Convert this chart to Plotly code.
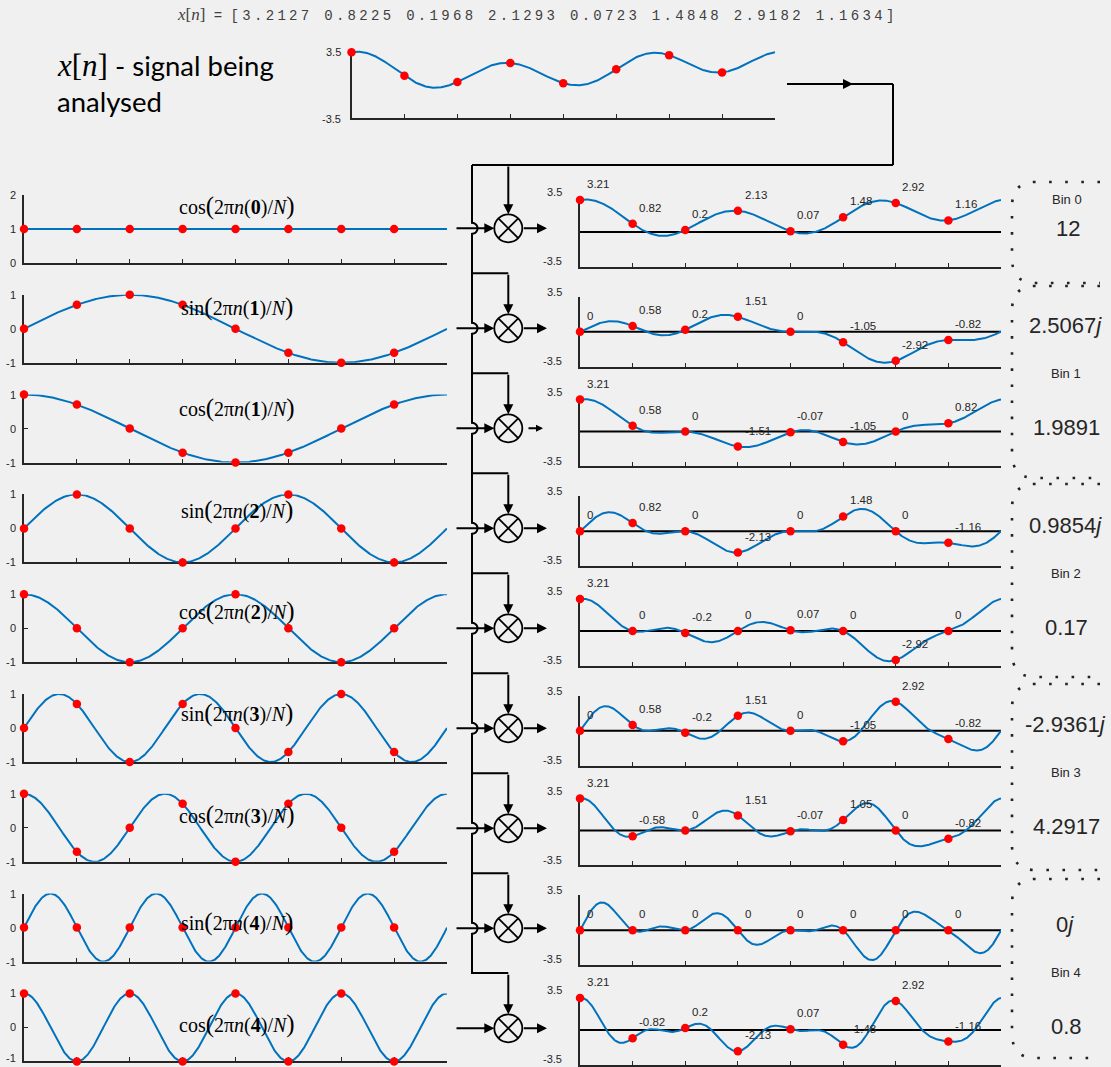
import numpy as np
import plotly.graph_objects as go

W, H = 1111, 1067
BG = '#f0f0f0'
AX = '#262626'
BLUE = '#0072BD'
RED = '#FF0000'
SANS = 'Liberation Sans, Arial, sans-serif'
SERIF = 'Liberation Serif, Times New Roman, serif'
MONO = 'Liberation Mono, Courier New, monospace'

# ---------------- data ----------------
x_n = [3.2127, 0.8225, 0.1968, 2.1293, 0.0723, 1.4848, 2.9182, 1.1634]
basis_kind = ['cos', 'sin', 'cos', 'sin', 'cos', 'sin', 'cos', 'sin', 'cos']
basis_k = [0, 1, 1, 2, 2, 3, 3, 4, 4]
product_labels = [
    ['3.21', '0.82', '0.2', '2.13', '0.07', '1.48', '2.92', '1.16'],
    ['0', '0.58', '0.2', '1.51', '0', '-1.05', '-2.92', '-0.82'],
    ['3.21', '0.58', '0', '-1.51', '-0.07', '-1.05', '0', '0.82'],
    ['0', '0.82', '0', '-2.13', '0', '1.48', '0', '-1.16'],
    ['3.21', '0', '-0.2', '0', '0.07', '0', '-2.92', '0'],
    ['0', '0.58', '-0.2', '1.51', '0', '-1.05', '2.92', '-0.82'],
    ['3.21', '-0.58', '0', '1.51', '-0.07', '1.05', '0', '-0.82'],
    ['0', '0', '0', '0', '0', '0', '0', '0'],
    ['3.21', '-0.82', '0.2', '-2.13', '0.07', '-1.48', '2.92', '-1.16'],
]
bin_names = ['Bin 0', 'Bin 1', 'Bin 2', 'Bin 3', 'Bin 4']
bin_real = ['12', '1.9891', '0.17', '4.2917', '0.8']
bin_imag = [None, '2.5067', '0.9854', '-2.9361', '0']

# ---------------- derived curves (DFT interpolation of x[n]) ----------------
N = len(x_n)
xa = np.array(x_n)
nn = np.arange(N)
C = [np.sum(xa * np.cos(2 * np.pi * k * nn / N)) for k in range(N // 2 + 1)]
S = [np.sum(xa * np.sin(2 * np.pi * k * nn / N)) for k in range(N // 2 + 1)]
t = np.linspace(0, N, 801)
xt = C[0] + C[N // 2] * np.cos(np.pi * t)
for k in range(1, N // 2):
    xt = xt + 2 * (C[k] * np.cos(2 * np.pi * k * t / N) + S[k] * np.sin(2 * np.pi * k * t / N))
xt = xt / N


def basis(kind, k, tt):
    f = np.cos if kind == 'cos' else np.sin
    return f(2 * np.pi * k * np.asarray(tt, dtype=float) / N)


def PX(x):
    return x / W


def PY(y):
    return 1 - y / H


fig = go.Figure()
axes = {}
annotations = []
shapes = []
count = [0]


def new_axes(x0, x1, ytop, ybot, yrange, ytickvals):
    count[0] += 1
    i = count[0]
    s = '' if i == 1 else str(i)
    axes['xaxis' + s] = dict(domain=[PX(x0), PX(x1)], range=[0, N], anchor='y' + s,
                             showgrid=False, zeroline=False, showline=True, linecolor=AX,
                             linewidth=2, ticks='inside', ticklen=4, tickwidth=1.3,
                             tickcolor=AX, tickvals=list(range(N + 1)),
                             showticklabels=False, fixedrange=True, layer='below traces',
                             automargin=False)
    axes['yaxis' + s] = dict(domain=[PY(ybot), PY(ytop)], range=yrange, anchor='x' + s,
                             showgrid=False, zeroline=False, showline=True, linecolor=AX,
                             linewidth=2, ticks='inside', ticklen=4, tickwidth=1.3,
                             tickcolor=AX, tickvals=ytickvals, showticklabels=False,
                             fixedrange=True, layer='below traces', automargin=False)
    return 'x' + s, 'y' + s


def add_curve(xr, yr, yy, color=BLUE, width=2):
    fig.add_trace(go.Scatter(x=t, y=yy, xaxis=xr, yaxis=yr, mode='lines',
                             line=dict(color=color, width=width), hoverinfo='skip',
                             showlegend=False, cliponaxis=False))


def add_dots(xr, yr, yy):
    fig.add_trace(go.Scatter(x=list(nn), y=list(yy), xaxis=xr, yaxis=yr, mode='markers',
                             marker=dict(color=RED, size=8.5), hoverinfo='skip',
                             showlegend=False, cliponaxis=False))


def text(x, y, s, size, family=SANS, color=AX, xanchor='center', yanchor='middle',
         xref='paper', yref='paper'):
    if xref == 'paper':
        x = PX(x)
    if yref == 'paper':
        y = PY(y)
    annotations.append(dict(x=x, y=y, xref=xref, yref=yref, text=s, showarrow=False,
                            xanchor=xanchor, yanchor=yanchor,
                            font=dict(family=family, size=size, color=color)))


def line(x0, y0, x1, y1, w=2, color='black'):
    shapes.append(dict(type='line', xref='paper', yref='paper', x0=PX(x0), y0=PY(y0),
                       x1=PX(x1), y1=PY(y1), line=dict(color=color, width=w)))


def arrow(tip, tail, size=1.0, w=2):
    annotations.append(dict(x=PX(tip[0]), y=PY(tip[1]), xref='paper', yref='paper',
                            ax=tail[0] - tip[0], ay=tail[1] - tip[1], text='',
                            showarrow=True, arrowhead=2, arrowsize=size, arrowwidth=w,
                            arrowcolor='black', standoff=0))


def path_from(points):
    return 'M ' + ' L '.join('%.6f,%.6f' % (PX(a), PY(b)) for a, b in points)


# ---------------- top signal ----------------
xr, yr = new_axes(351.5, 775, 49.4, 118.3, [-3.5, 3.5], [-3.5, 3.5])
add_curve(xr, yr, xt)
add_dots(xr, yr, xa)
text(343, 52, '3.5', 11, xanchor='right')
text(343, 119, '-3.5', 11, xanchor='right')

# ---------------- left basis plots ----------------
formula_y = [206, 307, 408, 510, 611, 713, 815, 922, 1024]
n_rows = len(basis_kind)
for i, (kind, k) in enumerate(zip(basis_kind, basis_k)):
    c = 229 + 99.8 * i
    if i == 0:
        yrange, tv = [0, 2], [0, 1, 2]
    else:
        yrange, tv = [-1, 1], [-1, 0, 1]
    xr, yr = new_axes(24, 447, c - 34, c + 34, yrange, tv)
    add_curve(xr, yr, basis(kind, k, t))
    add_dots(xr, yr, basis(kind, k, nn))
    for v in tv:
        if i == n_rows - 1 and v == yrange[0]:
            # keep the very last label inside the figure
            text(18, H - 1, '%g' % v, 11, xanchor='right', yanchor='bottom')
        else:
            ydom = (v - yrange[0]) / (yrange[1] - yrange[0])
            text(18, ydom, '%g' % v, 11, xanchor='right', xref='paper', yref=yr + ' domain')
    lbl = (kind + '<span style="font-size:25px">(</span>2π<i>n</i>(<b>%d</b>)/<i>N</i>'
           '<span style="font-size:25px">)</span>') % k
    text(237, formula_y[i], lbl, 20, family=SERIF, color='black')

# ---------------- right product plots ----------------
YR = 3.5
for i, (kind, k) in enumerate(zip(basis_kind, basis_k)):
    c = 232 + 99.75 * i
    xr, yr = new_axes(580, 1001, c - 34.9, c + 34.9, [-YR, YR], [-YR, YR])
    fig.add_trace(go.Scatter(x=[0, N], y=[0, 0], xaxis=xr, yaxis=yr, mode='lines',
                             line=dict(color='black', width=2), hoverinfo='skip',
                             showlegend=False))
    add_curve(xr, yr, xt * basis(kind, k, t))
    vals = xa * basis(kind, k, nn)
    add_dots(xr, yr, vals)
    for j, lab in enumerate(product_labels[i]):
        ydom = (vals[j] + 1.6 + YR) / (2 * YR)
        text(j + 0.09, ydom, lab, 11.5, xanchor='left', xref=xr, yref=yr + ' domain')
    text(564, c - 40, '3.5', 11, xanchor='right')
    text(564, c + 29, '-3.5', 11, xanchor='right')

# ---------------- wiring ----------------
BX = 472          # bus x
MX = 508.3        # multiplier x
R = 14            # multiplier radius
HOP = 5.5
cys = [228.3 + 100 * i for i in range(9)]

# top feed
line(787, 84, 893, 84)
arrow((853, 84), (838, 84))
line(893, 84, 893, 165)
line(BX, 165, 893, 165)

# bus with hops
pts = [(BX, 165)]
for i in range(8):
    cy = cys[i]
    pts.append((BX, cy - HOP))
    for a in np.linspace(-np.pi / 2, np.pi / 2, 13)[1:]:
        pts.append((BX + HOP * np.cos(a), cy + HOP * np.sin(a)))
pts.append((BX, 973))
pts.append((MX, 973))
shapes.append(dict(type='path', xref='paper', yref='paper', path=path_from(pts),
                   line=dict(color='black', width=2)))

for i, cy in enumerate(cys):
    by = 165 if i == 0 else cy - 55
    if 0 < i < 8:
        line(BX, by, MX, by)
    arrow((MX, cy - R), (MX, by))
    arrow((MX - R, cy), (455, cy))
    if i == 2:
        arrow((543, cy), (527, cy), size=0.7)
    else:
        arrow((547, cy), (MX + R, cy))
    shapes.append(dict(type='circle', xref='paper', yref='paper',
                       x0=PX(MX - R), x1=PX(MX + R), y0=PY(cy + R), y1=PY(cy - R),
                       line=dict(color='black', width=1.8), fillcolor='rgba(0,0,0,0)'))
    d = R * 0.7071
    line(MX - d, cy - d, MX + d, cy + d, w=1.8)
    line(MX - d, cy + d, MX + d, cy - d, w=1.8)

# ---------------- bin results ----------------
brace_tb = [(182, 283), (286, 478), (484, 677), (684, 870), (879, 1058)]
for (T, B) in brace_tb:
    p = ('M %f,%f L %f,%f Q %f,%f %f,%f L %f,%f Q %f,%f %f,%f L %f,%f' % (
        PX(1100), PY(T), PX(1035), PY(T), PX(1012), PY(T), PX(1012), PY(T + 25),
        PX(1012), PY(B - 25), PX(1012), PY(B), PX(1035), PY(B), PX(1100), PY(B)))
    shapes.append(dict(type='path', xref='paper', yref='paper', path=p,
                       line=dict(color='#222222', width=2.6, dash='2.6px,13.5px')))

text(1067, 200, bin_names[0], 13)
text(1068, 228, bin_real[0], 22)
for b in range(1, 5):
    c_im = 232 + 99.75 * (2 * b - 1)
    c_re = 232 + 99.75 * (2 * b)
    text(1065, c_im - 6, bin_imag[b] + '<i>j</i>', 22)
    text(1066, (c_im + c_re) / 2 - 8, bin_names[b], 13)
    text(1066, c_re - 4, bin_real[b], 22)

# ---------------- titles ----------------
sig_str = '[' + ' '.join('%.4f' % v for v in x_n) + ']'
text(175, 14, '<span style="font-family:Liberation Serif;font-size:17px"><i>x</i>[<i>n</i>]</span> = '
     '<span style="letter-spacing:3.3px">' + sig_str + '</span>', 14, family=MONO,
     color='#404040', xanchor='left')
text(55, 65, '<span style="font-family:Liberation Serif;font-size:31px"><i>x</i>[<i>n</i>]</span>'
     ' - signal being', 27.5, family='Lato, Liberation Sans, sans-serif', color='black',
     xanchor='left')
text(55, 102, 'analysed', 27.5, family='Lato, Liberation Sans, sans-serif', color='black',
     xanchor='left')

fig.update_layout(width=W, height=H,
                  margin=dict(l=0, r=0, t=0, b=0, pad=0, autoexpand=False),
                  paper_bgcolor=BG, plot_bgcolor=BG, showlegend=False,
                  annotations=annotations, shapes=shapes, **axes)
fig.write_html('out.html')
